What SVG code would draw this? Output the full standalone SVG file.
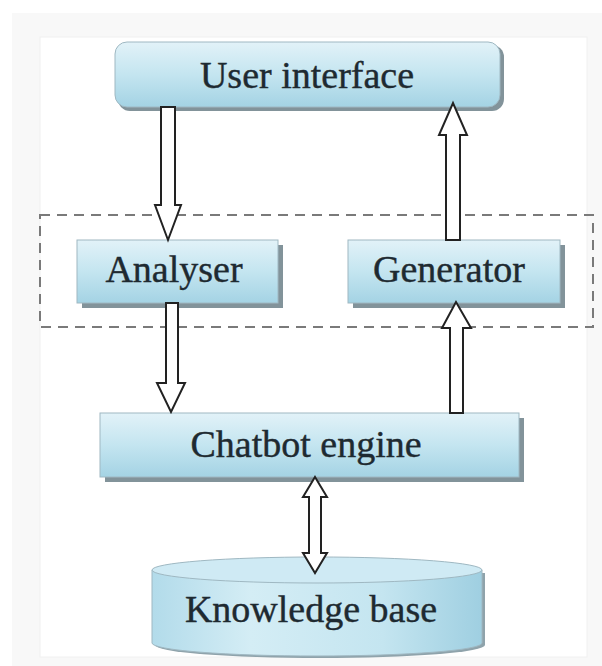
<svg xmlns="http://www.w3.org/2000/svg" width="602" height="666" viewBox="0 0 602 666">
  <defs>
    <linearGradient id="boxGrad" x1="0" y1="0" x2="0" y2="1">
      <stop offset="0" stop-color="#e2f2f8"/>
      <stop offset="0.5" stop-color="#c4e5f0"/>
      <stop offset="1" stop-color="#a4d3e4"/>
    </linearGradient>
    <linearGradient id="cylGrad" x1="0" y1="0" x2="1" y2="0">
      <stop offset="0" stop-color="#b2dbea"/>
      <stop offset="0.3" stop-color="#d4edf5"/>
      <stop offset="0.7" stop-color="#c4e5f0"/>
      <stop offset="1" stop-color="#9fcfe1"/>
    </linearGradient>
    <style>
      .lbl { font-family: "Liberation Serif", "Times New Roman", serif; font-size: 38px; fill: #1e2a31; stroke: #1e2a31; stroke-width: 0.4; text-anchor: middle; }
      .shadow { fill: #82939a; }
      .box { fill: url(#boxGrad); stroke: #9fb8c2; stroke-width: 1; }
      .arrow { fill: #ffffff; stroke: #222222; stroke-width: 2; stroke-linejoin: miter; }
      .group { fill: none; stroke: #7a7a7a; stroke-width: 2; stroke-dasharray: 10 7; }
    </style>
  </defs>

  <rect x="0" y="0" width="602" height="666" fill="#ffffff"/>
  <rect x="12" y="13" width="590" height="653" fill="#f8f8f8"/>
  <rect x="40" y="37" width="547" height="620" fill="#ffffff" stroke="#f0f0f0" stroke-width="1"/>

  <rect id="module-group" class="group" x="40" y="215" width="553" height="112"/>

  <g id="user-interface">
    <rect class="shadow" x="118" y="45" width="386" height="66" rx="12"/>
    <rect class="box" x="115" y="42" width="385" height="65" rx="12"/>
    <text class="lbl" x="307" y="88">User interface</text>
  </g>

  <g id="analyser">
    <rect class="shadow" x="82" y="245" width="201" height="63"/>
    <rect class="box" x="77" y="240" width="201" height="63"/>
    <text class="lbl" x="174" y="282">Analyser</text>
  </g>

  <g id="generator">
    <rect class="shadow" x="353" y="245" width="212" height="63"/>
    <rect class="box" x="348" y="240" width="212" height="63"/>
    <text class="lbl" x="449" y="282">Generator</text>
  </g>

  <g id="chatbot-engine">
    <rect class="shadow" x="105" y="418" width="419" height="64"/>
    <rect class="box" x="100" y="413" width="419" height="64"/>
    <text class="lbl" x="306" y="457">Chatbot engine</text>
  </g>

  <g id="knowledge-base">
    <path d="M155 573 L155 645 A164 13 0 0 0 485 645 L485 573 Z" fill="#8fa3ab"/>
    <path d="M152 570 L152 643 A165 13 0 0 0 482 643 L482 570 Z" fill="url(#cylGrad)" stroke="#9fb8c2" stroke-width="1"/>
    <ellipse cx="317" cy="570" rx="165" ry="13" fill="#cfeaf4" stroke="#9fb8c2" stroke-width="1"/>
    <text class="lbl" x="311" y="622">Knowledge base</text>
  </g>

  <g id="connectors">
    <polygon class="arrow" points="161,107 175,107 175,205 181,205 168,240 155,205 161,205"/>
    <polygon class="arrow" points="166,303 178,303 178,383 185,383 171,412 157,383 166,383"/>
    <polygon class="arrow" points="450,413 463,413 463,328 471,328 456,302 442,328 450,328"/>
    <polygon class="arrow" points="446,240 460,240 460,135 467,135 453,103 439,135 446,135"/>
    <polygon class="arrow" points="315,477 327,497 321,497 321,553 327,553 315,573 303,553 309,553 309,497 303,497"/>
  </g>
</svg>
